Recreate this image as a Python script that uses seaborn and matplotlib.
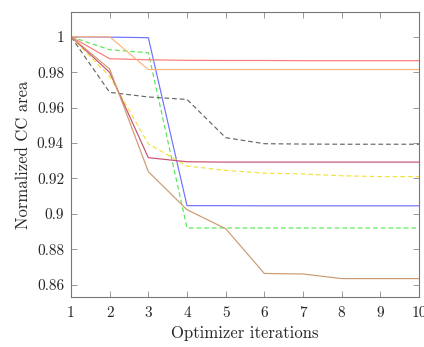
import matplotlib
matplotlib.use("Agg")
import matplotlib.pyplot as plt
import seaborn as sns
import pandas as pd

iterations = [1, 2, 3, 4, 5, 6, 7, 8, 9, 10]
blue = [1.0, 0.9998, 0.9995, 0.9046, 0.9046, 0.9045, 0.9045, 0.9045, 0.9045, 0.9045]
green = [1.0, 0.9927, 0.991, 0.892, 0.892, 0.892, 0.892, 0.892, 0.892, 0.892]
red = [1.0, 0.9876, 0.9870, 0.9867, 0.9866, 0.9866, 0.9865, 0.9865, 0.9865, 0.9865]
orange = [1.0, 1.0, 0.9815, 0.9815, 0.9815, 0.9815, 0.9815, 0.9815, 0.9815, 0.9815]
black = [1.0, 0.9686, 0.966, 0.9646, 0.943, 0.9396, 0.9394, 0.9393, 0.9393, 0.9393]
yellow = [1.0, 0.9776, 0.9395, 0.927, 0.9245, 0.923, 0.9225, 0.9215, 0.921, 0.921]
crimson = [1.0, 0.9799, 0.9317, 0.9294, 0.9292, 0.9292, 0.9292, 0.9292, 0.9292, 0.9292]
brown = [1.0, 0.9818, 0.9238, 0.9023, 0.8916, 0.8663, 0.8660, 0.8634, 0.8634, 0.8634]

yticks = [0.86, 0.88, 0.9, 0.92, 0.94, 0.96, 0.98, 1.0]
ytick_labels = ["0.86", "0.88", "0.9", "0.92", "0.94", "0.96", "0.98", "1"]

series = [
    ("blue", blue, "#7070ff", "-"),
    ("green", green, "#55ea55", "--"),
    ("red", red, "#ff7a7a", "-"),
    ("orange", orange, "#ffb478", "-"),
    ("black", black, "#666666", "--"),
    ("yellow", yellow, "#f3e23c", "--"),
    ("crimson", crimson, "#c84f74", "-"),
    ("brown", brown, "#cc9a70", "-"),
]

sns.set_style("white")
plt.rcParams["font.family"] = ["serif"]
plt.rcParams["font.serif"] = ["cmr10", "DejaVu Serif"]
plt.rcParams["axes.formatter.use_mathtext"] = True
plt.rcParams["mathtext.fontset"] = "cm"

fig = plt.figure(figsize=(4.24, 3.47), dpi=100)
ax = fig.add_axes([71 / 424, 50 / 347, 348 / 424, 285 / 347])

for name, vals, color, ls in series:
    df = pd.DataFrame({"it": iterations, "v": vals})
    sns.lineplot(data=df, x="it", y="v", ax=ax, color=color, linewidth=0.85)
    if ls == "--":
        ax.lines[-1].set_dashes((4, 2.5))

ax.set_xlim(1, 10)
ax.set_ylim(0.853, 1.014)
ax.set_xticks(iterations)
ax.set_xticklabels([str(i) for i in iterations], fontsize=11)
ax.set_yticks(yticks)
ax.set_yticklabels(ytick_labels, fontsize=11)
ax.tick_params(direction="in", length=4, width=0.6, color="#888888",
               top=True, right=True, bottom=True, left=True)
ax.tick_params(axis="x", pad=7)
ax.tick_params(axis="y", pad=5)
for sp in ax.spines.values():
    sp.set_color("#777777")
    sp.set_linewidth(0.8)
ax.set_xlabel("Optimizer iterations", fontsize=12, labelpad=4)
ax.set_ylabel("Normalized CC area", fontsize=12, labelpad=4)
ax.grid(False)

fig.savefig("out.png", dpi=100)
